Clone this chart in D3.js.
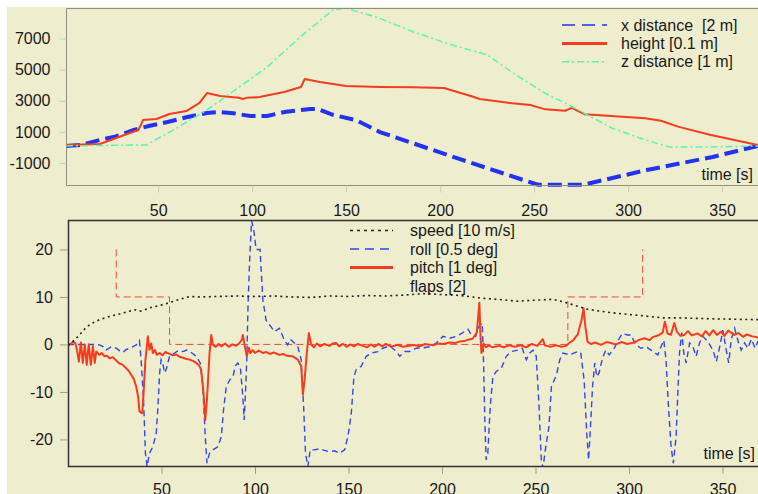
<!DOCTYPE html>
<html><head><meta charset="utf-8">
<script src="https://cdn.jsdelivr.net/npm/d3@7"></script>
<style>
body{margin:0;background:#fff}
svg{display:block;font-family:"Liberation Sans",Arial,Helvetica,sans-serif}
</style>
</head><body>
<svg id="chart" width="758" height="494"></svg>
<script>
// ---------- tick labels ----------
const topXTicks = [50, 100, 150, 200, 250, 300, 350];
const topYTicks = [-1000, 1000, 3000, 5000, 7000];
const botXTicks = [50, 100, 150, 200, 250, 300, 350];
const botYTicks = [-20, -10, 0, 10, 20];

// ---------- top panel series ----------
const xDistTime = [1, 9, 19, 27, 37, 45, 55, 65, 76, 83, 90, 99, 108, 118, 131, 135, 143, 155, 168, 209, 252, 276, 310, 345, 369];
const xDistVal  = [100, 160, 480, 690, 1120, 1380, 1640, 1940, 2220, 2280, 2200, 2020, 2020, 2300, 2470, 2470, 2090, 1770, 990, -690, -2400, -2400, -1450, -610, 100];

const heightTime = [1, 19, 35, 39.5, 41, 42, 49, 56, 65, 72, 76, 83, 93, 95, 97, 104, 117, 126, 128, 136, 150, 168, 185.6, 202, 217.6, 221, 238.5, 248, 256, 266.5, 270, 277, 291, 309, 317.5, 326.5, 344, 369];
const heightVal  = [160, 220, 930, 1120, 1500, 1770, 1830, 2150, 2340, 2860, 3500, 3310, 3200, 3120, 3190, 3240, 3570, 3890, 4400, 4210, 3950, 3890, 3870, 3820, 3260, 3120, 2840, 2730, 2450, 2360, 2540, 2130, 2020, 1880, 1720, 1340, 800, 160];

const zDistTime = [1, 44, 48.4, 58, 76, 108, 125.5, 143, 150, 168, 185.6, 203.4, 225, 239, 256, 270.6, 291.6, 309.4, 322, 345, 369];
const zDistVal  = [100, 160, 480, 1120, 2410, 5170, 7100, 8840, 8960, 8300, 7440, 6700, 5950, 4770, 3480, 2600, 1230, 480, 30, 30, 100];

// ---------- bottom panel series ----------
const speedTime = [0, 0.8, 3, 6.2, 9, 11.5, 14, 16.8, 22.2, 27.5, 32.9, 36, 38.2, 40, 43.6, 49, 54.3, 59.6, 65, 70, 80, 90, 100, 110, 120, 130, 140, 150, 160, 170, 180, 190, 200, 210, 222, 230, 240, 248.7, 259.4, 266.4, 273.7, 277.8, 290.3, 300, 308.2, 318, 326, 344, 370];
const speedVal  = [0, 0, 0.8, 2.0, 3.3, 4.1, 4.7, 5.2, 5.9, 6.4, 7.0, 7.3, 7.0, 7.1, 7.7, 8.2, 8.8, 9.5, 10.1, 10.0, 10.1, 10.2, 10.1, 10.2, 10.0, 9.9, 10.2, 10.1, 10.3, 10.2, 10.4, 10.7, 10.5, 10.3, 9.7, 9.5, 9.1, 9.3, 9.5, 8.8, 7.9, 7.4, 6.7, 6.3, 6.0, 5.6, 5.6, 5.4, 5.2];

const rollTime = [0, 13.3, 16.8, 18.5, 20.4, 23.1, 25.8, 27.5, 29.3, 31, 32.9, 34.5, 36.5, 38.2, 39.1, 40.4, 41.4, 42.3, 43.6, 45.4, 47.2, 48.1, 49, 49.8, 50.7, 51.6, 52.5, 54.3, 57, 59, 61.4, 63.5, 65.9, 68.6, 70.7, 72.1, 73.4, 74.3, 75.7, 77.5, 80.2, 82, 83.2, 84.6, 86.4, 88.2, 89.5, 90.8, 92.2, 93.5, 94.2, 94.9, 95.6, 96.3, 97.3, 98.2, 99.3, 100.6, 102.7, 103.3, 104.2, 105.9, 108.6, 110.4, 113.1, 115.7, 117.5, 118.8, 121.1, 122.9, 124.7, 126.0, 127.0, 128.3, 129.5, 131.8, 134, 136.3, 139.9, 142.5, 145.2, 147.9, 149.7, 151.5, 152.9, 154.1, 156.8, 159.5, 162.2, 165.7, 168.4, 172.0, 175.6, 177.4, 180.1, 182.6, 186.2, 190, 193.3, 196.9, 200.5, 204, 207.6, 211.2, 213.9, 215.7, 218, 219.8, 221.5, 222.2, 222.9, 223.6, 224.5, 225.8, 227.2, 229, 231.7, 234.4, 237, 240.6, 242.9, 245.1, 246.9, 248.7, 250.4, 251.9, 253.1, 254, 255.5, 257.2, 258.5, 261.2, 263, 264.7, 268.3, 272.5, 274.2, 276, 277.4, 278.4, 279.6, 280.5, 281.7, 282.8, 284, 285.8, 287.6, 289.4, 292.1, 294.8, 296.5, 299.2, 301, 303.7, 306.4, 309.1, 311.8, 315.4, 317.1, 318.6, 319.8, 321.1, 322.5, 323.7, 325.2, 326.1, 327, 328.2, 329.3, 330.6, 332.4, 334.2, 335.9, 337.7, 339.5, 342.2, 344.9, 346.7, 348.5, 350.2, 352, 353.3, 354.7, 356.5, 358.6, 360, 361.8, 363.6, 365.4, 367.5, 368.9, 370];
const rollVal  = [0, 0, -0.1, -0.4, -1.2, -0.5, -0.8, -1.3, -1.7, -1.1, -0.8, -0.5, -0.1, 0.8, -3.2, -11.7, -22.9, -25.7, -22.9, -21.5, -18.7, -13.1, -6, -3.2, -3.9, -6.0, -5.3, -2.5, -1.8, -1.3, -1.5, -1.2, -1.7, -2.5, -3.9, -8.9, -19.4, -25.0, -22.9, -22.2, -21.5, -19.4, -13.7, -8.9, -7.5, -6.8, -4.5, -3.9, -5.0, -11.0, -15.9, -10.3, -3.2, 8.7, 19.3, 26, 24.2, 20.0, 20.0, 15.7, 9.4, 5.1, 3.7, 2.7, 3.4, 0.9, -0.1, 1.1, 0.3, -0.5, -3.2, -13.1, -22.9, -25.7, -22.2, -22.2, -22.0, -22.2, -22.6, -22.4, -22.9, -22.2, -19.4, -14.5, -6.8, -5.3, -4.6, -2.5, -1.8, -1.5, -0.8, -0.3, -1.5, -2.5, -1.5, -1.5, -0.8, -0.7, -0.5, 0.3, 1.7, 1.3, 1.7, 2.5, 3.2, 2.0, 1.7, 3.8, 4.5, -3.2, -15.9, -24.3, -22.9, -13.1, -6.8, -5.7, -5.0, -2.5, -1.5, -1.2, -0.8, -3.2, -1.8, -1.2, -2.5, -13.1, -24.3, -26, -21.5, -17.3, -8.9, -6.4, -3.2, -1.8, -2.2, -1.5, -1.8, -7.5, -18.7, -24.3, -15.9, -8.9, -3.9, -6.8, -6.0, -2.9, -1.2, -2.2, -0.8, 1.3, 2.3, 2.0, 2.0, -0.1, -0.8, -0.5, -1.2, -2.2, -0.5, 0.9, -3.2, -13.1, -21.5, -25.0, -19.4, -10.3, -1.8, 2.5, -1.8, -3.9, 0.3, -0.5, -2.5, 0.3, 1.7, 0.6, -1.2, -3.6, -0.5, 3.0, -1.2, -3.9, 1.1, 3.4, 0.3, -1.2, 0.3, -0.8, 1.1, -0.8, 0.6, 0.2];

const pitchTime = [0, 1, 2, 3, 4, 4.7, 5.8, 6.9, 7.9, 9, 10, 11.1, 12.2, 13.3, 14.3, 15.1, 16.8, 18, 19.5, 21, 22.2, 24, 25.5, 27.5, 29, 31.1, 32.5, 33.8, 35.2, 36.5, 37.5, 38.2, 39.7, 40.4, 41.4, 42.7, 43.6, 44.5, 45.4, 46.5, 47.5, 49, 50.5, 52, 54.3, 56, 58, 59.6, 61.5, 63, 65, 67, 68.6, 70, 71.2, 72.5, 73.4, 74.3, 75.7, 76.6, 77.5, 79, 80.5, 82, 84, 86, 88, 90, 91.7, 93, 93.5, 94.9, 95.6, 96.7, 97.5, 98.8, 100, 102, 104.2, 106, 108, 110, 113.1, 115, 117, 120.2, 122.9, 124.7, 125.6, 126.5, 127.7, 128.8, 130, 131.5, 133, 135, 137, 139.9, 141.5, 143.4, 145, 147, 149, 151, 153, 155, 157.7, 160, 162, 164, 166, 168, 170, 173, 176, 179, 182.6, 185, 188, 191, 195.1, 198, 201, 204, 207, 209.4, 212, 214, 216.4, 218.6, 220, 220.5, 221.1, 222.2, 223.5, 225, 227, 230.7, 233, 236, 239, 242, 245, 248, 251, 253.9, 255, 258, 261, 264, 266.4, 268, 270, 271.7, 272.5, 274.6, 275.7, 276.7, 277.8, 279.6, 282, 285, 288, 290.3, 293, 296, 299, 302.8, 305, 308.2, 311, 313, 316.2, 318, 319.2, 320.6, 322.4, 324.2, 325.6, 327.5, 329.6, 331.5, 333.5, 336.7, 339, 341, 343, 345, 347, 349.2, 351, 353, 356.4, 358.5, 361, 363, 366, 368.7, 370];
const pitchVal  = [0, 0, 0.3, 0.6, 0.2, -1.0, -3.6, 0.4, -3.9, 0, -4.3, 0, -4.3, -0.4, -3.9, -1.5, -2.2, -1.8, -2.5, -2.4, -2.9, -2.7, -3.3, -4.0, -4.2, -5.0, -5.6, -6.4, -7.3, -8.9, -11, -14.1, -14.5, -10.3, -3.3, 1.7, -1.1, 0.2, -1.8, -1.2, -2.2, -1.8, -2.3, -1.6, -2.0, -2.3, -2.1, -2.6, -2.8, -3.0, -3.2, -3.5, -3.9, -4.4, -5.3, -10.3, -15.9, -11.7, -1.8, 2.0, -0.1, -0.5, 0.1, -0.4, 0.2, -0.5, 0.0, -0.3, 0.3, 1.0, 2.0, -1.1, -2.5, -0.7, -1.8, -1.2, -1.8, -1.3, -1.8, -1.6, -2.0, -1.7, -2.2, -2.0, -2.4, -2.5, -3.2, -4.6, -10.6, -7.5, -1.8, 2.4, 0, -0.6, 0.2, -0.4, 0.1, -0.3, 0.2, 0.3, -0.4, 0.1, -0.5, 0, -0.4, 0.1, -0.3, -0.6, 0, -0.5, 0.1, -0.4, 0.1, -0.5, -0.1, -0.5, -0.3, -0.1, -0.4, 0.1, -0.2, 0.2, 0.1, 0.4, 0.3, 0.6, 0.7, 1.0, 1.2, 2.5, 8.8, 2.5, -1.8, 0.2, -0.6, -0.2, -0.6, -0.3, -0.6, -0.2, -0.5, -0.2, -0.6, 0.1, -0.3, 1.1, -0.2, -0.5, -0.2, -0.5, -0.3, 0.3, 0.8, 1.7, 2.0, 5.1, 7.6, 3.7, 0.6, 0.1, 0.4, -0.1, 0.5, 0.3, 0.0, 0.5, 0.1, 0.4, 0.9, 1.3, 0.9, 1.6, 2.0, 2.5, 4.8, 2.3, 2.0, 4.5, 2.7, 1.8, 2.0, 2.8, 1.9, 2.3, 1.7, 2.8, 1.9, 3.0, 2.0, 2.7, 1.8, 2.9, 2.0, 2.4, 1.6, 2.1, 1.7, 1.5, 1.3];

const flapsTime = [0, 0, null, 25.8, 25.8, 54.3, 54.3, 267.3, 267.3, 307.3, 307.3];
const flapsVal  = [10, 19.5, null, 20, 10, 10, 0, 0, 10, 10, 20];

// ---------- drawing ----------
const svg = d3.select('#chart');
const BG = '#EEEDCE';
svg.append('rect').attr('x', 7).attr('y', 7).attr('width', 751).attr('height', 487).attr('fill', BG);

const xTop = d3.scaleLinear().domain([1, 370]).range([66, 66 + 369 * 1.88]);
const yTop = d3.scaleLinear().domain([-2415, 8968]).range([185, 8]);
const xBot = d3.scaleLinear().domain([0, 370]).range([68, 68 + 370 * 1.87]);
const yBot = d3.scaleLinear().domain([-25.7, 26.2]).range([466.5, 220]);

const defs = svg.append('defs');
defs.append('clipPath').attr('id', 'clipTop').append('rect').attr('x', 66).attr('y', 6).attr('width', 700).attr('height', 181);
defs.append('clipPath').attr('id', 'clipBot').append('rect').attr('x', 68).attr('y', 220).attr('width', 700).attr('height', 246.5);

function series(t, v) { return t.map((d, i) => [d, v[i]]); }

const lineTop = d3.line().x(d => xTop(d[0])).y(d => yTop(d[1]));
const lineBot = d3.line().defined(d => d[0] != null && d[1] != null).x(d => xBot(d[0])).y(d => yBot(d[1]));

// ---- top panel ----
const gTop = svg.append('g').attr('clip-path', 'url(#clipTop)');
gTop.append('path').datum(series(xDistTime, xDistVal)).attr('d', lineTop)
  .attr('fill', 'none').attr('stroke', '#2232EE').attr('stroke-width', 4).attr('stroke-dasharray', '14,6');
gTop.append('path').datum(series(heightTime, heightVal)).attr('d', lineTop)
  .attr('fill', 'none').attr('stroke', '#F53C1E').attr('stroke-width', 2).attr('stroke-linejoin', 'round');
gTop.append('path').datum(series(zDistTime, zDistVal)).attr('d', lineTop)
  .attr('fill', 'none').attr('stroke', '#5CF2B2').attr('stroke-width', 1.5).attr('stroke-dasharray', '7,3,2,3');

// top border
svg.append('path').attr('d', 'M760,8.5H66.5V185.5H760').attr('fill', 'none').attr('stroke', '#8E8E82').attr('stroke-width', 1);

const axTopX = svg.append('g').attr('transform', 'translate(0,185.5)')
  .call(d3.axisBottom(xTop).tickValues(topXTicks).tickSize(7).tickPadding(12).tickFormat(d => String(d)));
const axTopY = svg.append('g').attr('transform', 'translate(66.5,0)')
  .call(d3.axisLeft(yTop).tickValues(topYTicks).tickSize(7).tickPadding(9).tickFormat(d => String(d)));
[axTopX, axTopY].forEach(g => {
  g.select('.domain').remove();
  g.selectAll('.tick line').attr('stroke', '#CFCDB4');
  g.selectAll('text').attr('font-size', 16).attr('fill', '#1a1a1a').attr('font-family', '"Liberation Sans",Arial,sans-serif');
});

svg.append('text').attr('x', 753).attr('y', 180).attr('text-anchor', 'end')
  .attr('font-size', 16).attr('fill', '#1a1a1a').text('time [s]');

// top legend
const topLegend = [
  {label: 'x distance  [2 m]', color: '#2232EE', w: 1.6, dash: '13,7'},
  {label: 'height [0.1 m]', color: '#F53C1E', w: 3, dash: null},
  {label: 'z distance [1 m]', color: '#5CF2B2', w: 1.6, dash: '7,3,2,3'}
];
topLegend.forEach((d, i) => {
  const y = 25 + i * 18.4;
  svg.append('line').attr('x1', 562).attr('x2', 607).attr('y1', y).attr('y2', y)
    .attr('stroke', d.color).attr('stroke-width', d.w).attr('stroke-dasharray', d.dash);
  svg.append('text').attr('x', 621).attr('y', y + 5.5).attr('font-size', 16).attr('fill', '#1a1a1a')
    .style('white-space', 'pre').text(d.label);
});

// ---- bottom panel ----
const gBot = svg.append('g').attr('clip-path', 'url(#clipBot)');
gBot.append('path').datum(series(flapsTime, flapsVal)).attr('d', lineBot)
  .attr('fill', 'none').attr('stroke', '#F04A3A').attr('stroke-width', 1).attr('stroke-dasharray', '7,4');
gBot.append('path').datum(series(rollTime, rollVal)).attr('d', lineBot)
  .attr('fill', 'none').attr('stroke', '#3344F2').attr('stroke-width', 1.4).attr('stroke-dasharray', '6,4');
gBot.append('path').datum(series(pitchTime, pitchVal)).attr('d', lineBot)
  .attr('fill', 'none').attr('stroke', '#F53C1E').attr('stroke-width', 2).attr('stroke-linejoin', 'round');
gBot.append('path').datum(series(speedTime, speedVal)).attr('d', lineBot)
  .attr('fill', 'none').attr('stroke', '#222').attr('stroke-width', 1.6).attr('stroke-dasharray', '2,3.5');

svg.append('path').attr('d', 'M760,220.5H68.5V466.5H760').attr('fill', 'none').attr('stroke', '#333').attr('stroke-width', 1.5);

const axBotX = svg.append('g').attr('transform', 'translate(0,467)')
  .call(d3.axisBottom(xBot).tickValues(botXTicks).tickSize(7).tickPadding(10).tickFormat(d => String(d)));
const axBotY = svg.append('g').attr('transform', 'translate(68,0)')
  .call(d3.axisLeft(yBot).tickValues(botYTicks).tickSize(8).tickPadding(7).tickFormat(d => String(d)));
[axBotX, axBotY].forEach(g => {
  g.select('.domain').remove();
  g.selectAll('.tick line').attr('stroke', '#9A9A8E');
  g.selectAll('text').attr('font-size', 16).attr('fill', '#1a1a1a').attr('font-family', '"Liberation Sans",Arial,sans-serif');
});

svg.append('text').attr('x', 755).attr('y', 459).attr('text-anchor', 'end')
  .attr('font-size', 16).attr('fill', '#1a1a1a').text('time [s]');

// bottom legend
const botLegend = [
  {label: 'speed [10 m/s]', color: '#222', w: 1.6, dash: '3,4'},
  {label: 'roll [0.5 deg]', color: '#3344F2', w: 1.4, dash: '9,6'},
  {label: 'pitch [1 deg]', color: '#F53C1E', w: 3, dash: null},
  {label: 'flaps [2]', color: null}
];
botLegend.forEach((d, i) => {
  const y = 230.5 + i * 18.5;
  if (d.color) {
    svg.append('line').attr('x1', 350).attr('x2', 393).attr('y1', y).attr('y2', y)
      .attr('stroke', d.color).attr('stroke-width', d.w).attr('stroke-dasharray', d.dash);
  }
  svg.append('text').attr('x', 410).attr('y', y + 5.5).attr('font-size', 16).attr('fill', '#1a1a1a').text(d.label);
});
</script>
</body></html>
